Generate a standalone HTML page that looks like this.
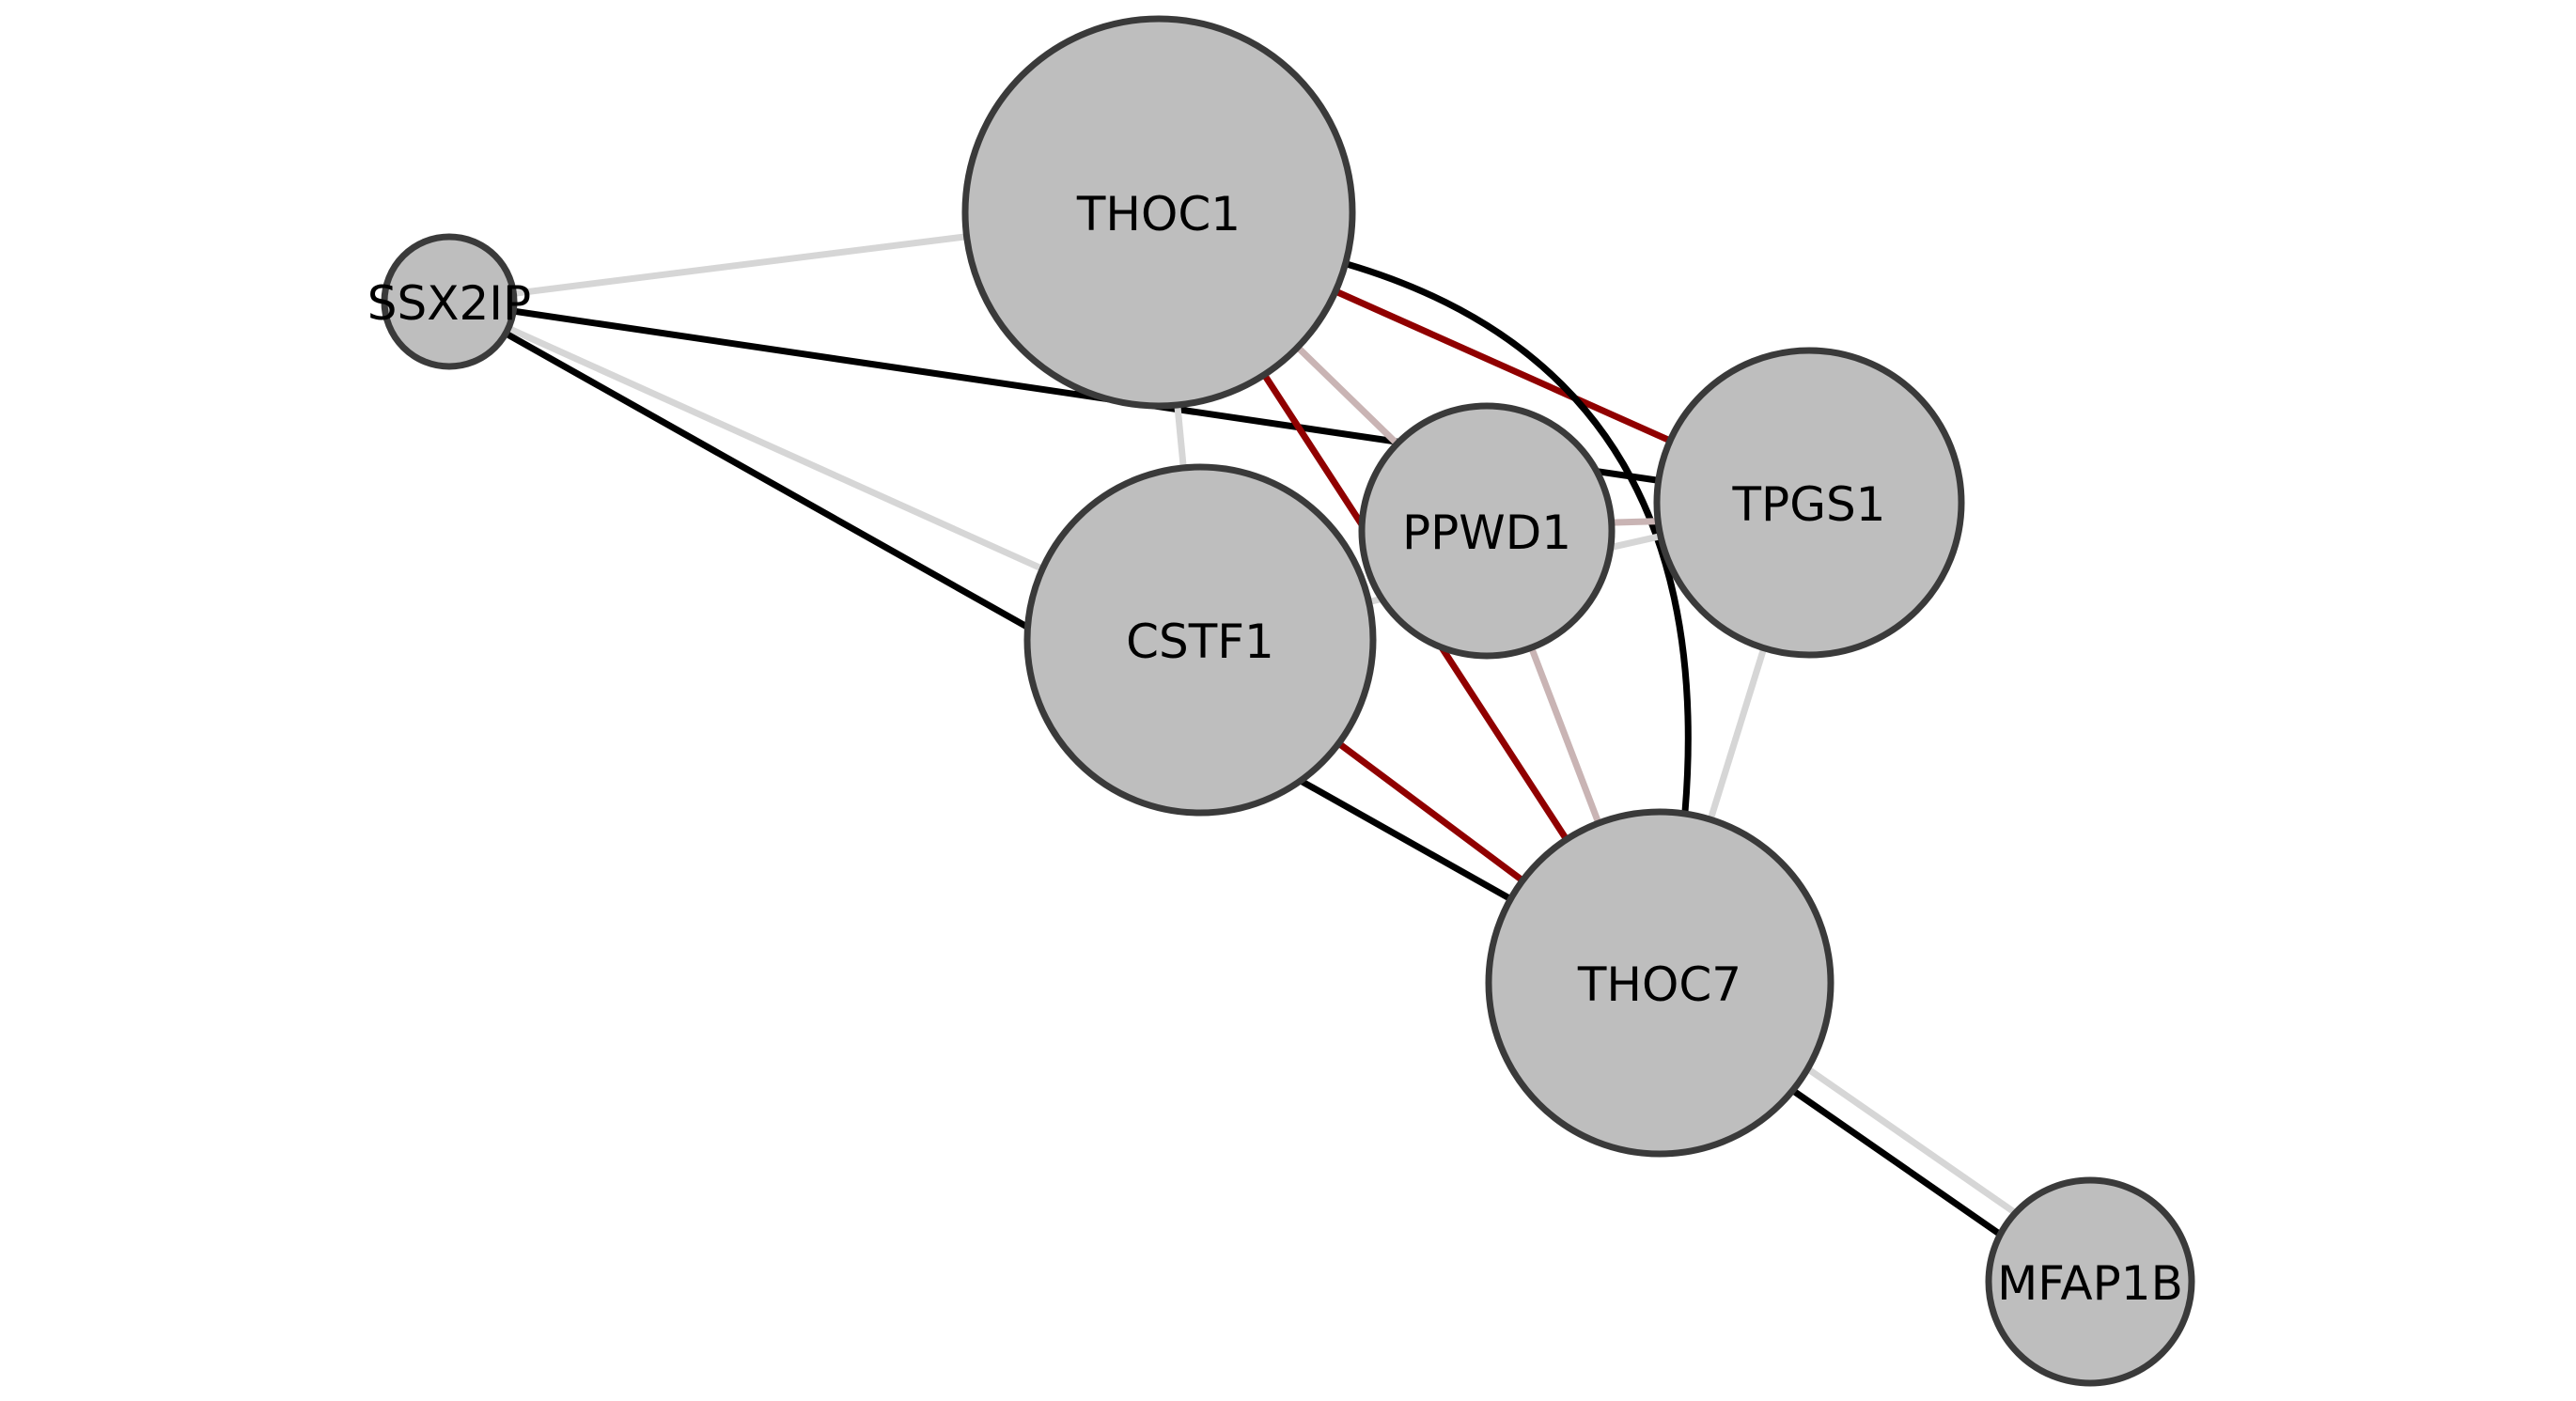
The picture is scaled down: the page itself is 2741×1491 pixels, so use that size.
<!DOCTYPE html>
<html><head><style>body{margin:0;background:#fff}svg{display:block}</style></head><body>
<svg width="2741" height="1491" viewBox="0 0 2741 1491" xmlns="http://www.w3.org/2000/svg">
<g fill="none" stroke-width="7">
<line x1="478" y1="321" x2="1233" y2="226" stroke="#d6d6d6"/>
<line x1="478" y1="321" x2="1277" y2="681" stroke="#d6d6d6"/>
<line x1="478" y1="321" x2="1766" y2="1046" stroke="#000"/>
<line x1="478" y1="321" x2="1925" y2="535" stroke="#000"/>
<line x1="1233" y1="226" x2="1277" y2="681" stroke="#d6d6d6"/>
<line x1="1233" y1="226" x2="1582" y2="565" stroke="#c9b4b4"/>
<line x1="1233" y1="226" x2="1925" y2="535" stroke="#900000"/>
<line x1="1233" y1="226" x2="1766" y2="1046" stroke="#900000"/>
<path d="M1433 281 Q1831 398 1793 864" stroke="#000"/>
<line x1="1582" y1="560" x2="1925" y2="550" stroke="#c9b4b4"/>
<line x1="1277" y1="681" x2="1925" y2="535" stroke="#d6d6d6"/>
<line x1="1582" y1="565" x2="1766" y2="1046" stroke="#c9b4b4"/>
<line x1="1277" y1="681" x2="1766" y2="1046" stroke="#900000"/>
<line x1="1925" y1="535" x2="1766" y2="1046" stroke="#d6d6d6"/>
<line x1="1776" y1="1035" x2="2234" y2="1353" stroke="#d6d6d6"/>
<line x1="1760" y1="1058" x2="2218" y2="1376" stroke="#000"/>
</g>
<g fill="#bebebe" stroke="#3a3a3a" stroke-width="7">
<circle cx="1233" cy="226" r="206"/>
<circle cx="478" cy="321" r="69"/>
<circle cx="1277" cy="681" r="184"/>
<circle cx="1582" cy="565" r="133"/>
<circle cx="1925" cy="535" r="162"/>
<circle cx="1766" cy="1046" r="182"/>
<circle cx="2224" cy="1364" r="108"/>
</g>
<g font-family="'DejaVu Sans','Liberation Sans',sans-serif" font-size="50" text-anchor="middle" dominant-baseline="central" fill="#000">
<text x="1233" y="228">THOC1</text>
<text x="478" y="323">SSX2IP</text>
<text x="1277" y="683">CSTF1</text>
<text x="1582" y="567">PPWD1</text>
<text x="1925" y="537">TPGS1</text>
<text x="1766" y="1048">THOC7</text>
<text x="2224" y="1366">MFAP1B</text>
</g>
</svg>
</body></html>
